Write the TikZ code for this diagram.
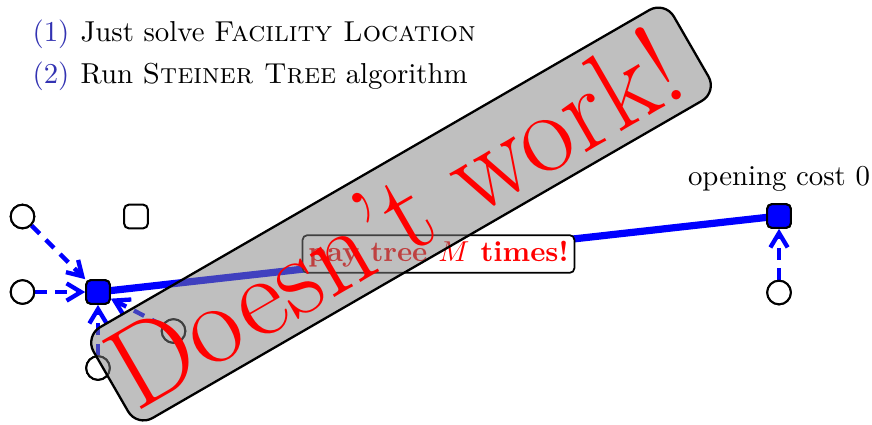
\documentclass[tikz,border=0pt]{standalone}
\usetikzlibrary{arrows.meta}
\definecolor{struct}{RGB}{51,51,178}
\begin{document}
\begin{tikzpicture}[x=0.347pt,y=-0.347pt,
  client/.style={circle,draw=black,line width=0.7pt,fill=white,minimum size=8.2pt,inner sep=0pt},
  facility/.style={rectangle,rounded corners=1.6pt,draw=black,line width=0.7pt,fill=white,minimum size=8.2pt,inner sep=0pt},
  openfac/.style={facility,fill=blue},
  assign/.style={blue,line width=1.5pt,dash pattern=on 4pt off 3pt,-{Straight Barb[length=5pt,width=6pt]}},
  tree/.style={blue,line width=2.5pt},
  treelabel/.style={draw=black,line width=0.6pt,fill=white,rounded corners=1.6pt,inner sep=2pt,text=red,font=\bfseries},
  itemnum/.style={anchor=base west,inner sep=0pt,text=struct},
  itemtext/.style={anchor=base west,inner sep=0pt},
  warnbox/.style={draw=black,line width=0.8pt,fill=gray,fill opacity=0.5,rounded corners=6.2pt,minimum width=232.5pt,minimum height=36.4pt,rotate=30},
  warntext/.style={text=red,font=\fontsize{40}{46}\selectfont,rotate=30,anchor=base,inner sep=0pt}
]
\useasboundingbox (0,0) rectangle (872,424);

% list
\node[itemnum] (n1) at (32,41) {(1)};
\node[itemtext] (t1) at (80,41) {Just solve \textsc{Facility Location}};
\node[itemnum] (n2) at (32,83) {(2)};
\node[itemtext] (t2) at (80,83) {Run \textsc{Steiner Tree} algorithm};

% nodes
\node[client] (c1) at (22.5,216.5) {};
\node[client] (c2) at (22.5,292) {};
\node[client] (c3) at (98,368) {};
\node[client] (c4) at (173.5,331) {};
\node[client] (c5) at (779,292.5) {};
\node[facility] (f0) at (136,216.5) {};
\node[openfac] (f1) at (98,292) {};
\node[openfac] (f2) at (779,216) {};

\node[anchor=base,inner sep=0pt] (cost) at (779,185) {opening cost 0};

% connections
\draw[tree] (f1) -- (f2) node[treelabel,midway] (lbl) {pay tree $M$ times!};
\draw[assign] (c1) -- (f1);
\draw[assign] (c2) -- (f1);
\draw[assign] (c3) -- (f1);
\draw[assign] (c4) -- (f1);
\draw[assign] (c5) -- (f2);

% redraw nodes on top
\node[client] at (c1) {};
\node[client] at (c2) {};
\node[client] at (c3) {};
\node[client] at (c4) {};
\node[client] at (c5) {};
\node[openfac] at (f1) {};
\node[openfac] at (f2) {};

% warning overlay
\node[warnbox] (wb) at (401,214) {};
\node[warntext] (wt) at (414,252) {Doesn't work!};
\end{tikzpicture}
\end{document}
